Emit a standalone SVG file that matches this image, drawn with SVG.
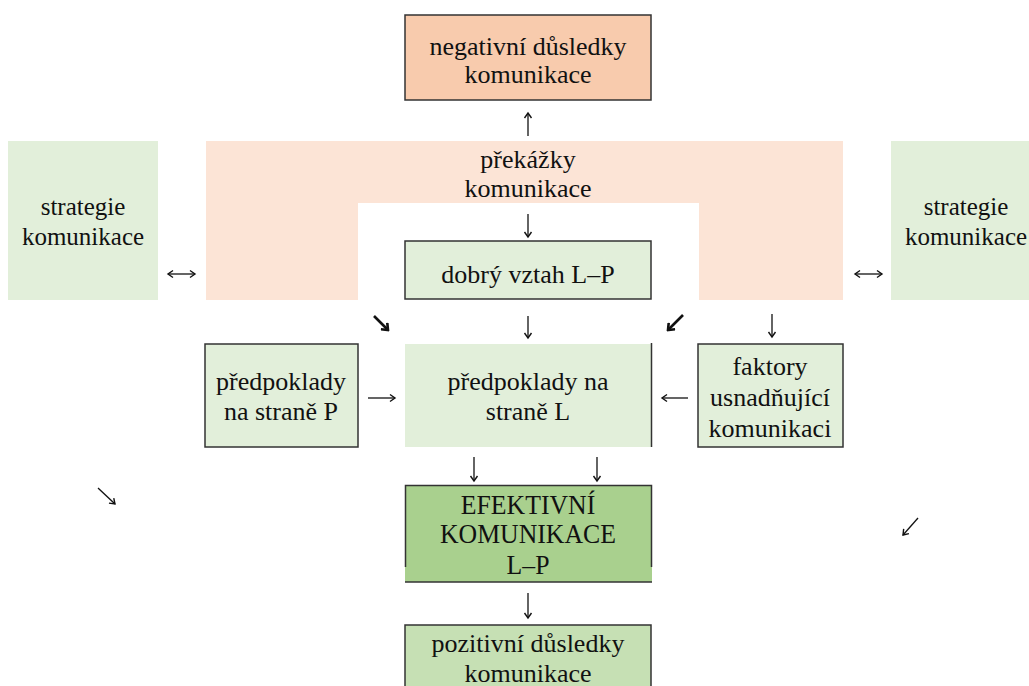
<svg xmlns="http://www.w3.org/2000/svg" width="1029" height="686" viewBox="0 0 1029 686">
<defs>
<marker id="h" markerUnits="userSpaceOnUse" viewBox="0 0 10 10" markerWidth="10" markerHeight="10" refX="8" refY="5" orient="auto">
<path d="M3,1.5 L8,5 L3,8.5" fill="none" stroke="#111" stroke-width="1.4"/>
</marker>
<marker id="hs" markerUnits="userSpaceOnUse" viewBox="0 0 10 10" markerWidth="10" markerHeight="10" refX="2" refY="5" orient="auto">
<path d="M7,1.5 L2,5 L7,8.5" fill="none" stroke="#111" stroke-width="1.4"/>
</marker>
<marker id="hb" markerUnits="userSpaceOnUse" viewBox="0 0 10 10" markerWidth="10" markerHeight="10" refX="8" refY="5" orient="auto">
<path d="M2.5,0.5 L8,5 L2.5,9.5" fill="none" stroke="#111" stroke-width="2.6"/>
</marker>
</defs>
<rect width="1029" height="686" fill="#fff"/>
<g id="negativni" font-family="Liberation Serif" font-size="26" fill="#111" text-anchor="middle">
<rect x="405" y="15" width="246" height="85" fill="#f8cbad" stroke="#333" stroke-width="1.5"/>
<text x="528" y="55" font-family="Liberation Serif">negativní důsledky</text>
<text x="528" y="83" font-family="Liberation Serif">komunikace</text>
</g>
<g id="prekazky" font-family="Liberation Serif" font-size="26" fill="#111" text-anchor="middle">
<path d="M206 141H843V300H699V203H358V300H206Z" fill="#fce4d6"/>
<text x="528" y="168" font-family="Liberation Serif">překážky</text>
<text x="528" y="197" font-family="Liberation Serif">komunikace</text>
</g>
<g id="strategie-l" font-family="Liberation Serif" font-size="25" fill="#111" text-anchor="middle">
<rect x="8" y="141" width="150" height="159" fill="#e2efda"/>
<text x="83" y="215" font-family="Liberation Serif">strategie</text>
<text x="83" y="245" font-family="Liberation Serif">komunikace</text>
</g>
<g id="strategie-r" font-family="Liberation Serif" font-size="25" fill="#111" text-anchor="middle">
<rect x="891" y="141" width="150" height="159" fill="#e2efda"/>
<text x="966" y="215" font-family="Liberation Serif">strategie</text>
<text x="966" y="245" font-family="Liberation Serif">komunikace</text>
</g>
<g id="dobry" font-family="Liberation Serif" font-size="26" fill="#111" text-anchor="middle">
<rect x="405" y="241" width="246" height="58" fill="#e2efda" stroke="#333" stroke-width="1.5"/>
<text x="528" y="283" font-family="Liberation Serif">dobrý vztah L–P</text>
</g>
<g id="predpoklady-p" font-family="Liberation Serif" font-size="26" fill="#111" text-anchor="middle">
<rect x="205" y="344" width="153" height="103" fill="#e2efda" stroke="#333" stroke-width="1.5"/>
<text x="281" y="390" font-family="Liberation Serif">předpoklady</text>
<text x="281" y="420" font-family="Liberation Serif">na straně P</text>
</g>
<g id="predpoklady-l" font-family="Liberation Serif" font-size="26" fill="#111" text-anchor="middle">
<rect x="405" y="344" width="246" height="103" fill="#e2efda"/>
<line x1="651.5" y1="343" x2="651.5" y2="447" stroke="#333" stroke-width="1.5"/>
<text x="528" y="390" font-family="Liberation Serif">předpoklady na</text>
<text x="528" y="420" font-family="Liberation Serif">straně L</text>
</g>
<g id="faktory" font-family="Liberation Serif" font-size="26" fill="#111" text-anchor="middle">
<rect x="698" y="344" width="145" height="103" fill="#e2efda" stroke="#333" stroke-width="1.5"/>
<text x="770" y="375" font-family="Liberation Serif">faktory</text>
<text x="770" y="406" font-family="Liberation Serif">usnadňující</text>
<text x="770" y="437" font-family="Liberation Serif">komunikaci</text>
</g>
<g id="efektivni" font-family="Liberation Serif" font-size="28" fill="#111" text-anchor="middle">
<rect x="405" y="485" width="247" height="97" fill="#a9d08e"/>
<path d="M405.5 567V485.5H651.5V567" fill="none" stroke="#333" stroke-width="1.5"/>
<line x1="405" y1="582" x2="652" y2="582" stroke="#333" stroke-width="1.5"/>
<g transform="translate(528 0) scale(0.92 1)">
<text x="0" y="514" font-family="Liberation Serif">EFEKTIVNÍ</text>
<text x="0" y="543" font-family="Liberation Serif">KOMUNIKACE</text>
<text x="0" y="574" font-family="Liberation Serif">L–P</text>
</g>
</g>
<g id="pozitivni" font-family="Liberation Serif" font-size="26" fill="#111" text-anchor="middle">
<rect x="405" y="625" width="246" height="70" fill="#c6e0b4" stroke="#333" stroke-width="1.5"/>
<text x="528" y="652" font-family="Liberation Serif">pozitivní důsledky</text>
<text x="528" y="682" font-family="Liberation Serif">komunikace</text>
</g>
<g id="connectors" fill="none" stroke="#111" stroke-width="1.3" marker-end="url(#h)">
<path d="M528 136V113"/>
<path d="M528 214V237"/>
<path d="M168 274H195" marker-start="url(#hs)"/>
<path d="M855 274H882" marker-start="url(#hs)"/>
<path d="M374 316L388 330" stroke-width="2.6" marker-end="url(#hb)"/>
<path d="M528 316V338"/>
<path d="M683 315L668 330" stroke-width="2.6" marker-end="url(#hb)"/>
<path d="M772 314V337"/>
<path d="M368 398H395"/>
<path d="M688 398H662"/>
<path d="M474 457V481"/>
<path d="M597 457V481"/>
<path d="M528 593V618"/>
<path d="M98 488L115 504"/>
<path d="M918 518L903 535"/>
</g>
</svg>
